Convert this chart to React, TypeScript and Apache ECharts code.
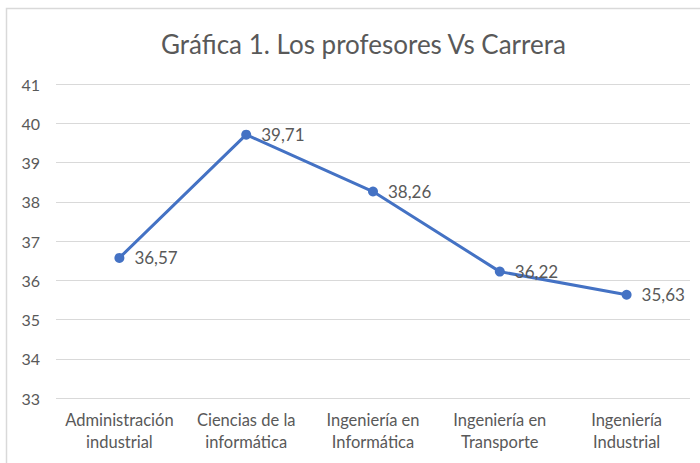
import React, { useEffect, useRef } from "react";
import * as echarts from "echarts";

const categories = [
  "Administración\nindustrial",
  "Ciencias de la\ninformática",
  "Ingeniería en\nInformática",
  "Ingeniería en\nTransporte",
  "Ingeniería\nIndustrial",
];
const values = [36.57, 39.71, 38.26, 36.22, 35.63];
const yTicks = { min: 33, max: 41, interval: 1 };
const titleText = "Gráfica 1. Los profesores Vs Carrera";

const FONT = "Lato, 'Open Sans', sans-serif";
const TXT = "#595959";
const BLUE = "#4472C4";

export default function App() {
  const ref = useRef<HTMLDivElement>(null);
  useEffect(() => {
    if (!ref.current) return;
    const chart = echarts.init(ref.current, undefined, { renderer: "svg" });
    chart.setOption({
      animation: false,
      backgroundColor: "#ffffff",
      title: {
        text: titleText,
        left: 156,
        top: 26,
        textStyle: { fontFamily: FONT, fontSize: 26, fontWeight: "normal", color: TXT },
      },
      graphic: [
        {
          type: "rect",
          shape: { x: 6.5, y: 8.5, width: 720, height: 480 },
          style: { fill: "none", stroke: "#d9d9d9", lineWidth: 1.5 },
          silent: true,
        },
      ],
      grid: { left: 56, right: 10, top: 84, bottom: 65, containLabel: false },
      xAxis: {
        type: "category",
        data: categories,
        boundaryGap: true,
        axisLine: { show: false },
        axisTick: { show: false },
        axisLabel: {
          fontFamily: FONT,
          fontSize: 16.5,
          color: TXT,
          lineHeight: 22,
          margin: 11,
          interval: 0,
        },
      },
      yAxis: {
        type: "value",
        min: yTicks.min,
        max: yTicks.max,
        interval: yTicks.interval,
        axisLine: { show: false },
        axisTick: { show: false },
        splitLine: { lineStyle: { color: "#d9d9d9", width: 1 } },
        axisLabel: { fontFamily: FONT, fontSize: 16, color: TXT, margin: 16 },
      },
      series: [
        {
          type: "line",
          data: values,
          symbol: "circle",
          symbolSize: 10,
          lineStyle: { color: BLUE, width: 3 },
          itemStyle: { color: BLUE },
          label: {
            show: true,
            position: "right",
            distance: 10,
            fontFamily: FONT,
            fontSize: 17,
            color: TXT,
            formatter: (p: any) => Number(p.value).toFixed(2).replace(".", ","),
          },
        },
      ],
    });
    return () => chart.dispose();
  }, []);
  return (
    <div
      ref={ref}
      style={{ position: "fixed", left: 0, top: 0, width: 700, height: 463 }}
    />
  );
}
